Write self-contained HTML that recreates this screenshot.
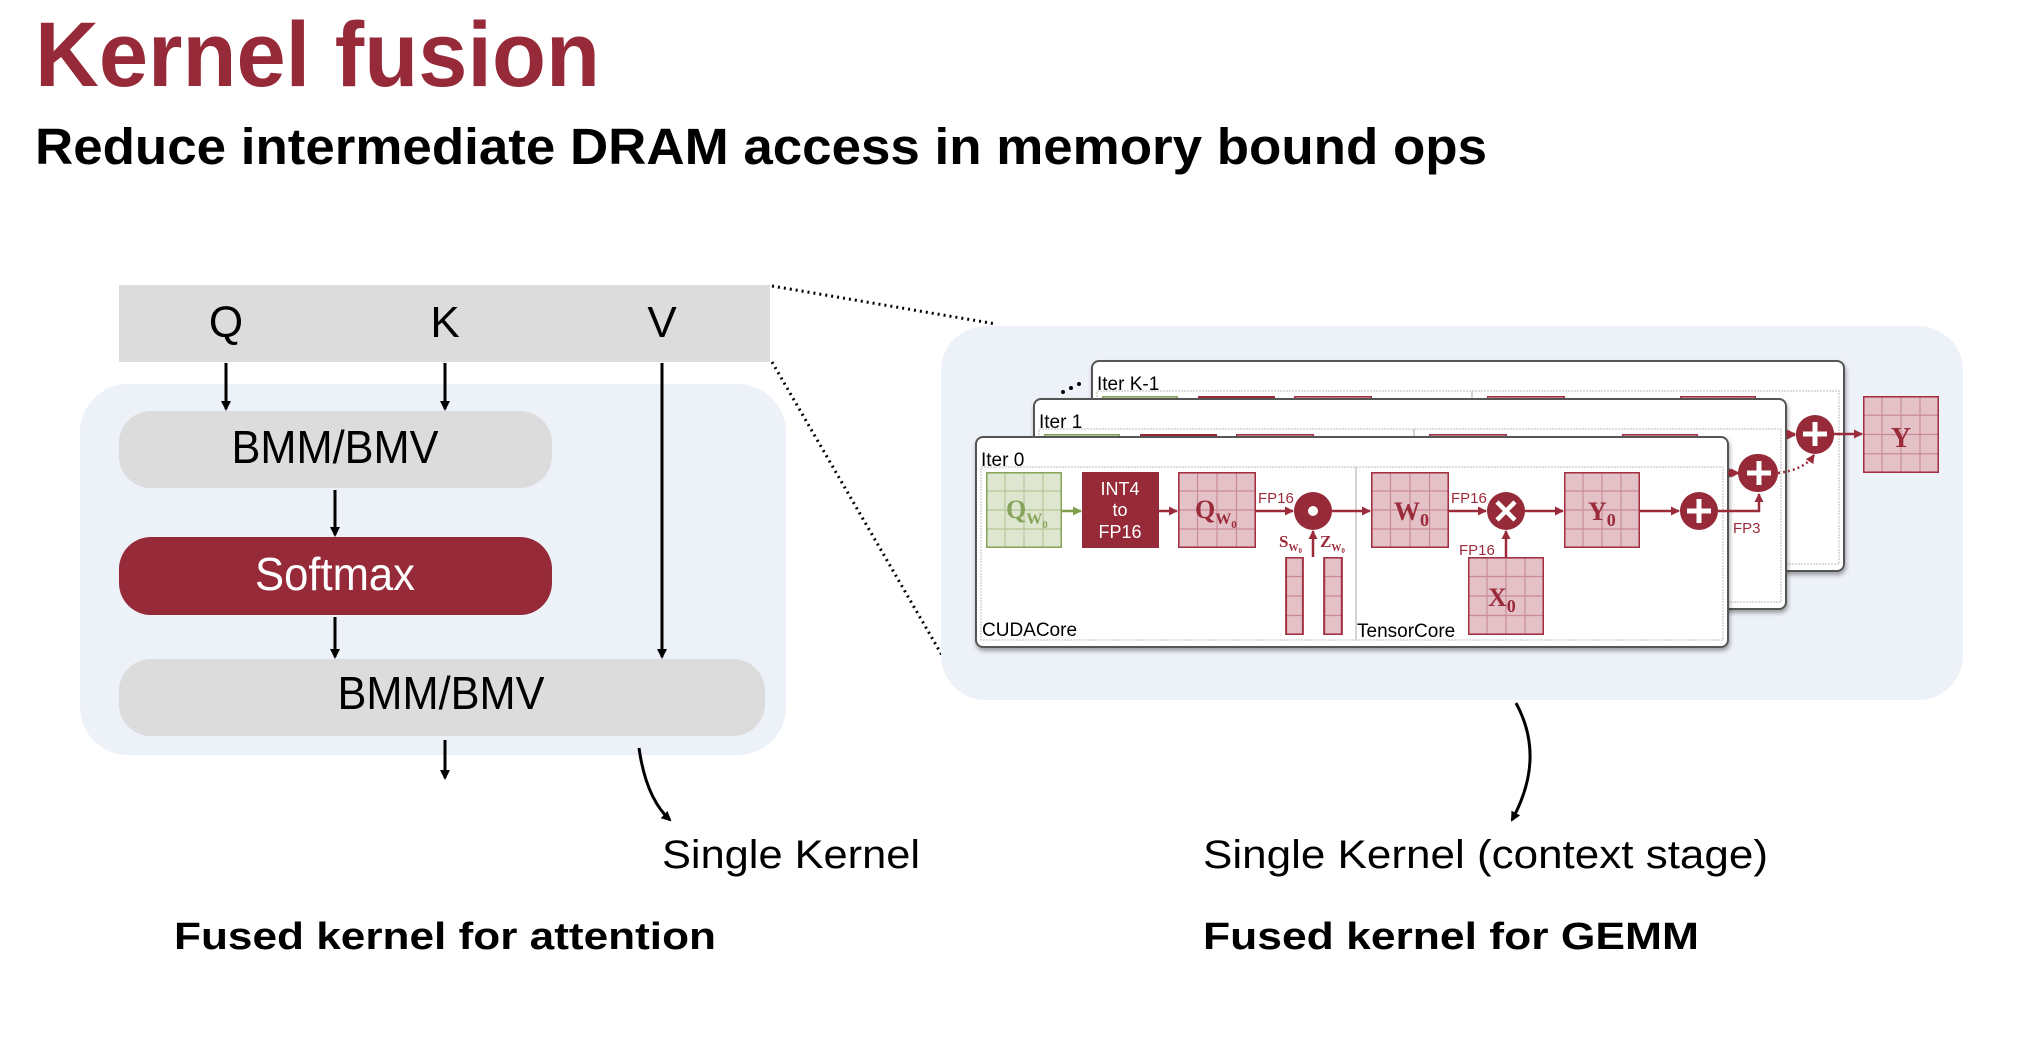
<!DOCTYPE html>
<html><head><meta charset="utf-8"><style>html,body{margin:0;padding:0;background:#fff}svg{display:block}</style></head>
<body>
<svg width="2036" height="1058" viewBox="0 0 2036 1058" xmlns="http://www.w3.org/2000/svg" font-family="Liberation Sans, Arial, sans-serif">
<defs>
<marker id="ab" markerWidth="10" markerHeight="10" refX="8" refY="5" orient="auto" markerUnits="userSpaceOnUse"><path d="M0,0 L10,5 L0,10 z" fill="#000"/></marker>
<marker id="ar" markerWidth="9" markerHeight="9" refX="8" refY="4.5" orient="auto" markerUnits="userSpaceOnUse"><path d="M0,0 L9,4.5 L0,9 z" fill="#9b2b3a"/></marker>
<marker id="ag" markerWidth="9" markerHeight="9" refX="8" refY="4.5" orient="auto" markerUnits="userSpaceOnUse"><path d="M0,0 L9,4.5 L0,9 z" fill="#7e9e4c"/></marker>
<symbol id="pg" viewBox="0 0 4 4" preserveAspectRatio="none">
<rect x="0" y="0" width="4" height="4" fill="#e3c1c7"/>
<path d="M1,0V4M2,0V4M3,0V4M0,1H4M0,2H4M0,3H4" stroke="#c98a95" stroke-width="0.06" fill="none"/>
<rect x="0.04" y="0.04" width="3.92" height="3.92" fill="none" stroke="#a33040" stroke-width="0.08"/>
</symbol>
<symbol id="gg" viewBox="0 0 4 4" preserveAspectRatio="none">
<rect x="0" y="0" width="4" height="4" fill="#dfe6d0"/>
<path d="M1,0V4M2,0V4M3,0V4M0,1H4M0,2H4M0,3H4" stroke="#b4c696" stroke-width="0.06" fill="none"/>
<rect x="0.04" y="0.04" width="3.92" height="3.92" fill="none" stroke="#86a55a" stroke-width="0.08"/>
</symbol>
<symbol id="bar" viewBox="0 0 1 4" preserveAspectRatio="none">
<rect x="0" y="0" width="1" height="4" fill="#e3c1c7"/>
<path d="M0,1H1M0,2H1M0,3H1" stroke="#c98a95" stroke-width="0.06"/>
<rect x="0.06" y="0.03" width="0.88" height="3.94" fill="none" stroke="#a33040" stroke-width="0.1"/>
</symbol>
<filter id="sh" x="-5%" y="-5%" width="110%" height="115%"><feDropShadow dx="1" dy="3" stdDeviation="2" flood-color="#000" flood-opacity="0.35"/></filter>
<g id="panel">
<rect x="980" y="437" width="752" height="210" rx="7" fill="#fff" stroke="#555" stroke-width="2" filter="url(#sh)"/>
<rect x="985" y="467" width="742" height="173" fill="none" stroke="#bbb" stroke-width="1" stroke-dasharray="2,1"/>
<line x1="1360" y1="467" x2="1360" y2="640" stroke="#aaa" stroke-width="1"/>
<use href="#gg" x="990" y="472" width="76" height="76"/>
<line x1="1066" y1="511" x2="1085" y2="511" stroke="#7e9e4c" stroke-width="2.5" marker-end="url(#ag)"/>
<rect x="1086" y="472" width="77" height="76" fill="#962a38"/>
<line x1="1163" y1="511" x2="1181" y2="511" stroke="#9b2b3a" stroke-width="2.5" marker-end="url(#ar)"/>
<use href="#pg" x="1182" y="472" width="78" height="76"/>
<line x1="1260" y1="511" x2="1297" y2="511" stroke="#9b2b3a" stroke-width="2.5" marker-end="url(#ar)"/>
<circle cx="1317" cy="511" r="19" fill="#962a38"/><circle cx="1317" cy="511" r="5" fill="#fff"/>
<line x1="1317" y1="557" x2="1317" y2="531" stroke="#9b2b3a" stroke-width="2.5" marker-end="url(#ar)"/>
<use href="#bar" x="1289" y="557" width="19" height="78"/>
<use href="#bar" x="1327" y="557" width="20" height="78"/>
<line x1="1336" y1="511" x2="1374" y2="511" stroke="#9b2b3a" stroke-width="2.5" marker-end="url(#ar)"/>
<use href="#pg" x="1375" y="472" width="78" height="76"/>
<line x1="1453" y1="511" x2="1490" y2="511" stroke="#9b2b3a" stroke-width="2.5" marker-end="url(#ar)"/>
<circle cx="1510" cy="511" r="19" fill="#962a38"/>
<path d="M1501,502 L1519,520 M1519,502 L1501,520" stroke="#fff" stroke-width="4.5"/>
<line x1="1510" y1="557" x2="1510" y2="531" stroke="#9b2b3a" stroke-width="2.5" marker-end="url(#ar)"/>
<use href="#pg" x="1472" y="557" width="76" height="78"/>
<line x1="1529" y1="511" x2="1567" y2="511" stroke="#9b2b3a" stroke-width="2.5" marker-end="url(#ar)"/>
<use href="#pg" x="1568" y="472" width="76" height="76"/>
<line x1="1644" y1="511" x2="1683" y2="511" stroke="#9b2b3a" stroke-width="2.5" marker-end="url(#ar)"/>
<circle cx="1703" cy="511" r="19" fill="#962a38"/>
<path d="M1691,511 H1715 M1703,499 V523" stroke="#fff" stroke-width="5"/>
</g>
</defs>

<text x="35" y="86" font-size="92" font-weight="bold" fill="#962a38" textLength="565" lengthAdjust="spacingAndGlyphs">Kernel fusion</text>
<text x="35" y="164" font-size="51" font-weight="bold" fill="#000" textLength="1452" lengthAdjust="spacingAndGlyphs">Reduce intermediate DRAM access in memory bound ops</text>

<rect x="80" y="384" width="706" height="371" rx="48" fill="#edf1f8"/>
<rect x="119" y="285" width="651" height="77" fill="#dcdcdc"/>
<text x="226" y="337" font-size="44" text-anchor="middle">Q</text>
<text x="445" y="337" font-size="44" text-anchor="middle">K</text>
<text x="662" y="337" font-size="44" text-anchor="middle">V</text>
<rect x="119" y="411" width="433" height="77" rx="32" fill="#dcdcdc"/>
<text x="335" y="463" font-size="46" text-anchor="middle" textLength="207" lengthAdjust="spacingAndGlyphs">BMM/BMV</text>
<rect x="119" y="537" width="433" height="78" rx="32" fill="#962a38"/>
<text x="335" y="590" font-size="46" text-anchor="middle" fill="#fff" textLength="160" lengthAdjust="spacingAndGlyphs">Softmax</text>
<rect x="119" y="659" width="646" height="77" rx="32" fill="#dcdcdc"/>
<text x="441" y="709" font-size="46" text-anchor="middle" textLength="207" lengthAdjust="spacingAndGlyphs">BMM/BMV</text>
<g stroke="#000" stroke-width="3" fill="none">
<line x1="226" y1="363" x2="226" y2="409" marker-end="url(#ab)"/>
<line x1="445" y1="363" x2="445" y2="409" marker-end="url(#ab)"/>
<line x1="335" y1="490" x2="335" y2="535" marker-end="url(#ab)"/>
<line x1="335" y1="617" x2="335" y2="657" marker-end="url(#ab)"/>
<line x1="662" y1="363" x2="662" y2="657" marker-end="url(#ab)"/>
<line x1="445" y1="740" x2="445" y2="778" marker-end="url(#ab)"/>
<path d="M639,748 Q646,798 670,820" marker-end="url(#ab)"/>
<path d="M1516,703 Q1546,758 1512,820" marker-end="url(#ab)"/>
</g>
<g stroke="#000" stroke-width="3" stroke-dasharray="2,4" fill="none">
<line x1="772" y1="286" x2="996" y2="324"/>
<line x1="772" y1="362" x2="961" y2="688"/>
</g>

<g transform="translate(-4,0)">
<rect x="945" y="326" width="1022" height="374" rx="45" fill="#edf1f8"/>
<use href="#panel" transform="translate(116,-76)"/>
<use href="#panel" transform="translate(58,-38)"/>
<use href="#panel"/>
<g fill="#000" font-size="19">
<text x="1101" y="390">Iter K-1</text>
<text x="1043" y="428">Iter 1</text>
<text x="985" y="466">Iter 0</text>
<text x="986" y="636">CUDACore</text>
<text x="1361" y="637">TensorCore</text>
</g>
<circle cx="1067" cy="392" r="2" fill="#000"/><circle cx="1075" cy="388" r="2" fill="#000"/><circle cx="1083" cy="384" r="2" fill="#000"/>
<g font-family="Liberation Serif, serif" font-weight="bold" font-size="26">
<text x="1010" y="518" fill="#86a55a">Q<tspan font-size="16" dy="6">W</tspan><tspan font-size="11" dy="4">0</tspan></text>
<text x="1199" y="518" fill="#9b2b3a">Q<tspan font-size="16" dy="6">W</tspan><tspan font-size="11" dy="4">0</tspan></text>
<text x="1398" y="520" fill="#9b2b3a">W<tspan font-size="18" dy="6">0</tspan></text>
<text x="1492" y="606" fill="#9b2b3a">X<tspan font-size="18" dy="6">0</tspan></text>
<text x="1592" y="520" fill="#9b2b3a">Y<tspan font-size="18" dy="6">0</tspan></text>
<text x="1283" y="547" font-size="17" fill="#9b2b3a">S<tspan font-size="10" dy="4">W</tspan><tspan font-size="7" dy="2">0</tspan></text>
<text x="1324" y="547" font-size="17" fill="#9b2b3a">Z<tspan font-size="10" dy="4">W</tspan><tspan font-size="7" dy="2">0</tspan></text>
</g>
<g fill="#fff" font-size="18" text-anchor="middle">
<text x="1124" y="495">INT4</text><text x="1124" y="516">to</text><text x="1124" y="538">FP16</text>
</g>
<g fill="#9b2b3a" font-size="15">
<text x="1262" y="503">FP16</text>
<text x="1455" y="503">FP16</text>
<text x="1463" y="555">FP16</text>
<text x="1737" y="533">FP3</text>
</g>
<g stroke="#9b2b3a" stroke-width="2.5" fill="none">
<path d="M1722,511 H1763 V494" marker-end="url(#ar)"/>
<path d="M1782,473 Q1808,470 1818,455" stroke-dasharray="2,3" marker-end="url(#ar)"/>
<line x1="1838" y1="434" x2="1866" y2="434" marker-end="url(#ar)"/>
<line x1="1732" y1="473" x2="1743" y2="473" marker-end="url(#ar)"/>
<line x1="1790" y1="434" x2="1799" y2="434" marker-end="url(#ar)"/>
</g>
<circle cx="1763" cy="473" r="19" fill="#962a38"/>
<path d="M1751,473 H1775 M1763,461 V485" stroke="#fff" stroke-width="5"/>
<circle cx="1819" cy="434" r="19" fill="#962a38"/>
<path d="M1807,434 H1831 M1819,422 V446" stroke="#fff" stroke-width="5"/>
<use href="#pg" x="1867" y="396" width="76" height="77"/>
<text x="1905" y="447" font-family="Liberation Serif, serif" font-weight="bold" font-size="28" fill="#9b2b3a" text-anchor="middle">Y</text>
</g>

<text x="662" y="868" font-size="40" textLength="258" lengthAdjust="spacingAndGlyphs">Single Kernel</text>
<text x="174" y="949" font-size="38" font-weight="bold" textLength="542" lengthAdjust="spacingAndGlyphs">Fused kernel for attention</text>
<text x="1203" y="868" font-size="40" textLength="565" lengthAdjust="spacingAndGlyphs">Single Kernel (context stage)</text>
<text x="1203" y="949" font-size="38" font-weight="bold" textLength="496" lengthAdjust="spacingAndGlyphs">Fused kernel for GEMM</text>
</svg>
</body></html>
